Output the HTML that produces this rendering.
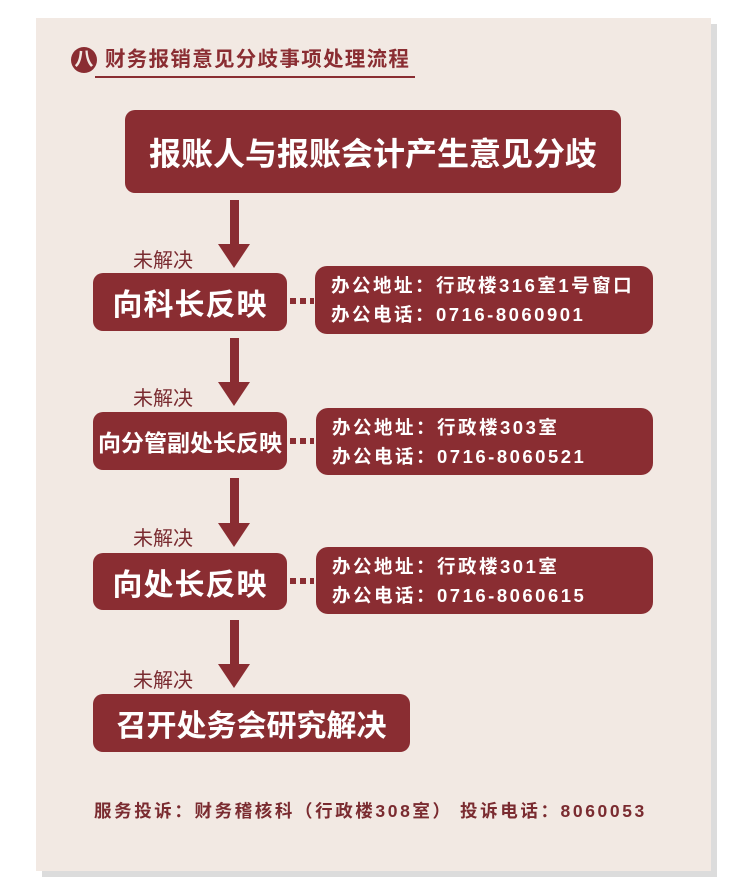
<!DOCTYPE html>
<html><head><meta charset="utf-8"><style>
*{margin:0;padding:0;box-sizing:border-box}
body{width:750px;height:890px;background:#fff;position:relative;overflow:hidden;font-family:"Liberation Sans","Noto Sans CJK SC",sans-serif}
.a{position:absolute}
.shadow{left:42px;top:24px;width:675px;height:853px;background:#dcdcdc}
.panel{left:36px;top:18px;width:675px;height:853px;background:#f2e9e3}
.box{position:absolute;background:#8a2d32;border-radius:10px;color:#fff;font-weight:bold;display:flex;align-items:center;justify-content:center;white-space:nowrap}
.info{position:absolute;background:#8a2d32;border-radius:12px;color:#fff;font-weight:bold;font-size:18.5px;line-height:29px;padding:5px 0 0 16px;white-space:nowrap;letter-spacing:2.5px}
.shaft{position:absolute;width:9px;background:#8a2d32}
.head{position:absolute;width:0;height:0;border-left:16px solid transparent;border-right:16px solid transparent;border-top:24px solid #8a2d32}
.lbl{position:absolute;color:#7a2b30;font-size:20px;white-space:nowrap}
.dots{position:absolute;height:6px;width:24px;background:repeating-linear-gradient(90deg,#8a2d32 0 6px,transparent 6px 10px)}
</style></head><body>
<div class="a shadow"></div><div class="a panel"></div>
<div class="a" style="left:71px;top:47px;width:26px;height:26px;border-radius:50%;background:#8a2d32;color:#f2e9e3;font-weight:bold;font-size:19px;line-height:26px;text-align:center">八</div>
<div class="a" style="left:105px;top:47px;color:#8a2d32;font-weight:bold;font-size:20.5px;line-height:26px;white-space:nowrap;letter-spacing:1.3px">财务报销意见分歧事项处理流程</div>
<div class="a" style="left:95px;top:76px;width:320px;height:2px;background:#8a2d32"></div>

<div class="box" style="left:125px;top:110px;width:496px;height:83px;font-size:32px">报账人与报账会计产生意见分歧</div>

<div class="shaft" style="left:230px;top:200px;height:45px"></div><div class="head" style="left:218px;top:244px"></div>
<div class="lbl" style="left:133px;top:244px">未解决</div>
<div class="box" style="left:93px;top:273px;width:194px;height:58px;font-size:30px;letter-spacing:1px">向科长反映</div>
<div class="dots" style="left:290px;top:298px"></div>
<div class="info" style="left:315px;top:266px;width:338px;height:68px">办公地址：行政楼316室1号窗口<br>办公电话：0716-8060901</div>

<div class="shaft" style="left:230px;top:338px;height:45px"></div><div class="head" style="left:218px;top:382px"></div>
<div class="lbl" style="left:133px;top:382px">未解决</div>
<div class="box" style="left:93px;top:412px;width:194px;height:58px;font-size:23px">向分管副处长反映</div>
<div class="dots" style="left:290px;top:438px"></div>
<div class="info" style="left:316px;top:408px;width:337px;height:67px">办公地址：行政楼303室<br>办公电话：0716-8060521</div>

<div class="shaft" style="left:230px;top:478px;height:46px"></div><div class="head" style="left:218px;top:523px"></div>
<div class="lbl" style="left:133px;top:522px">未解决</div>
<div class="box" style="left:93px;top:553px;width:194px;height:57px;font-size:30px;letter-spacing:1px">向处长反映</div>
<div class="dots" style="left:290px;top:578px"></div>
<div class="info" style="left:316px;top:547px;width:337px;height:67px">办公地址：行政楼301室<br>办公电话：0716-8060615</div>

<div class="shaft" style="left:230px;top:620px;height:46px"></div><div class="head" style="left:218px;top:664px"></div>
<div class="lbl" style="left:133px;top:664px">未解决</div>
<div class="box" style="left:93px;top:694px;width:317px;height:58px;font-size:30px">召开处务会研究解决</div>

<div class="a" style="left:94px;top:798px;color:#7a2b30;font-weight:bold;font-size:17.5px;white-space:nowrap;letter-spacing:2.6px">服务投诉：财务稽核科（行政楼308室） 投诉电话：8060053</div>
</body></html>
